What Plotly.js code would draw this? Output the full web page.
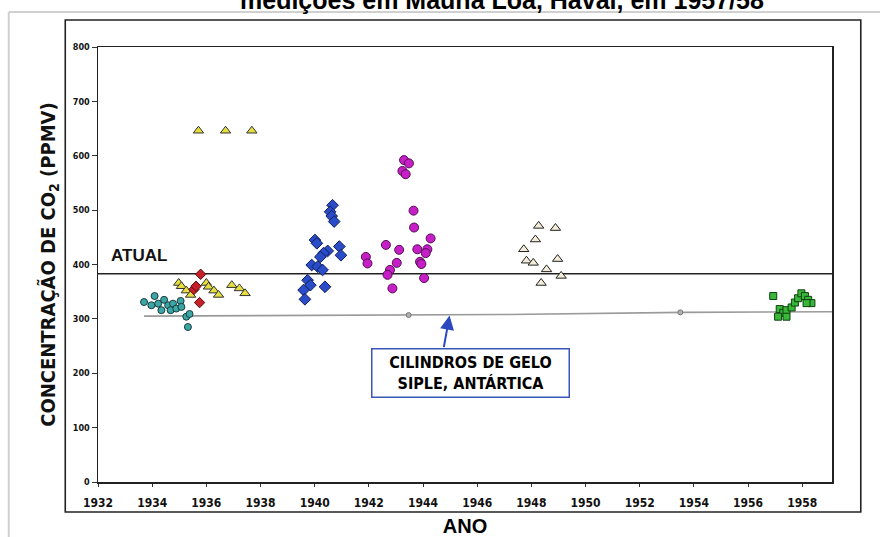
<!DOCTYPE html>
<html><head><meta charset="utf-8">
<script src="https://cdn.plot.ly/plotly-3.0.1.min.js"></script>
<style>html,body{margin:0;padding:0;background:#fff}#chart{width:880px;height:537px}</style>
</head><body><div id="chart"></div><script>
// ---- data ----
const tealYears=[1933.70,1934.09,1933.97,1934.22,1934.34,1934.44,1934.59,1934.68,1934.77,1934.89,1935.05,1935.08,1935.26,1935.38,1935.32];
const tealPpm  =[331,342,325,328,316,335,325,316,328,319,333,322,304,309,285];
const redYears=[1935.79,1935.54,1935.62,1935.75];
const redPpm  =[382,354,360,330];
const yellowYears=[1934.98,1935.08,1935.26,1935.42,1936.00,1936.08,1936.28,1936.45,1936.94,1937.22,1937.43,1935.71,1936.71,1937.68];
const yellowPpm  =[366,360,352,344,366,359,352,344,362,356,347,646,646,646];
const blueYears=[1940.66,1940.57,1940.63,1940.72,1940.01,1940.08,1940.91,1940.97,1940.48,1940.33,1940.21,1939.89,1940.11,1940.29,1939.74,1939.84,1939.59,1939.64,1940.38];
const bluePpm  =[509,497,489,479,445,439,433,417,425,421,414,399,396,390,371,362,353,336,359];
const magentaYears=[1943.30,1943.48,1943.24,1943.36,1943.65,1943.67,1944.28,1942.63,1943.12,1943.79,1944.16,1944.10,1941.89,1941.95,1943.03,1943.89,1943.94,1942.78,1942.69,1944.04,1942.87];
const magentaPpm  =[592,586,572,566,499,468,448,436,427,428,428,421,414,402,403,405,401,390,381,375,356];
const beigeYears=[1948.27,1948.89,1948.15,1947.72,1947.82,1948.07,1948.97,1948.56,1949.10,1948.36];
const beigePpm  =[471,467,446,428,407,403,410,391,379,366];
const greenYears=[1956.93,1957.17,1957.30,1957.11,1957.42,1957.61,1957.73,1957.85,1957.97,1958.10,1958.22,1958.34,1958.16,1957.42];
const greenPpm  =[342,318,311,304,316,321,330,338,347,342,335,329,329,304];
const iceLineYears=[1933.7,1940.3,1943.4,1946.9,1953.6,1959.1];
const iceLinePpm  =[305,306,307,308,312,313];
const iceDotYears=[1935.3,1943.47,1953.5];
const iceDotPpm  =[306,307,312];
const atualYears=[1932,1959.1];
const atualPpm  =[383,383];
const xTickVals=[1932,1934,1936,1938,1940,1942,1944,1946,1948,1950,1952,1954,1956,1958];
const xTickText=['1932','1934','1936','1938','1940','1942','1944','1946','1948','1950','1952','1954','1956','1958'];
const yTickVals=[0,100,200,300,400,500,600,700,800];
const yTickText=['0','100','200','300','400','500','600','700','800'];

const F='"Liberation Sans", Arial, sans-serif';
const NARROW='"Liberation Sans Narrow", "DejaVu Sans Condensed", "Roboto Condensed", "Liberation Sans", Arial, sans-serif';

function pts(x,y,symbol,size,color,lineColor){
  return {type:'scatter',mode:'markers',x:x,y:y,hoverinfo:'x+y',
    marker:{symbol:symbol,size:size,color:color,line:{color:lineColor,width:1}}};
}
const traces=[
  {type:'scatter',mode:'lines',x:atualYears,y:atualPpm,line:{color:'#222',width:1.6},hoverinfo:'skip'},
  {type:'scatter',mode:'lines',x:iceLineYears,y:iceLinePpm,line:{color:'#9a9a9a',width:1.6},hoverinfo:'skip'},
  {type:'scatter',mode:'markers',x:iceDotYears,y:iceDotPpm,marker:{symbol:'circle',size:5,color:'#b0b0b0',line:{color:'#777',width:1}}},
  pts(tealYears,tealPpm,'circle',7,'#3aa6a6','#1c3c3c'),
  pts(yellowYears,yellowPpm,'triangle-up',9,'#e6de3c','#333'),
  pts(redYears,redPpm,'diamond',8,'#c8202a','#501010'),
  pts(blueYears,bluePpm,'diamond',9,'#2a4cc8','#10205a'),
  pts(magentaYears,magentaPpm,'circle',9,'#c81ec8','#501050'),
  pts(beigeYears,beigePpm,'triangle-up',9,'#f2ecd8','#222'),
  pts(greenYears,greenPpm,'square',7,'#38b838','#104010')
];

const layout={
  width:880,height:537,
  margin:{l:98,r:48,t:47,b:55,pad:0},
  paper_bgcolor:'#fff',plot_bgcolor:'#fff',
  showlegend:false,
  font:{family:F,color:'#111'},
  xaxis:{range:[1932,1959.1],tickmode:'array',tickvals:xTickVals,ticktext:xTickText,
    ticks:'outside',ticklen:3,tickcolor:'#333',ticklabelstandoff:6,
    tickfont:{family:NARROW,size:12,weight:'bold',color:'#111'},
    showgrid:false,zeroline:false,showline:true,mirror:true,linecolor:'#222',linewidth:1.5,
    title:{text:'ANO',font:{family:F,size:20,weight:'bold',color:'#000'},standoff:12}},
  yaxis:{range:[0,800],tickmode:'array',tickvals:yTickVals,ticktext:yTickText,
    ticks:'outside',ticklen:5,tickcolor:'#333',
    tickfont:{family:NARROW,size:9,weight:'bold',color:'#111'},
    showgrid:false,zeroline:false,showline:true,mirror:true,linecolor:'#222',linewidth:1.5,
    title:{text:'CONCENTRAÇÃO DE CO<sub>2</sub> (PPMV)',font:{family:NARROW,size:20,weight:'bold',color:'#111'},standoff:12}},
  shapes:[
    {type:'line',xref:'paper',yref:'paper',x0:-0.1216,x1:1.12,y0:1.0805,y1:1.0805,line:{color:'#d0d0d0',width:2}},
    {type:'line',xref:'paper',yref:'paper',x0:-0.1216,x1:-0.1216,y0:1.0805,y1:-0.13,line:{color:'#d0d0d0',width:2}},
    {type:'rect',xref:'paper',yref:'paper',x0:-0.0446,x1:1.0392,y0:-0.069,y1:1.062,line:{color:'#222',width:1.6}}
  ],
  annotations:[
    {xref:'paper',yref:'paper',x:0.55,y:1.108,xanchor:'center',yanchor:'middle',showarrow:false,
     text:'medições em Mauna Loa, Havaí, em 1957/58',font:{family:F,size:25,weight:'bold',color:'#000'}},
    {x:1932.4,y:416,xanchor:'left',yanchor:'middle',showarrow:false,text:'ATUAL',
     font:{family:F,size:17,weight:'bold',color:'#111'}},
    {x:1944.98,y:306,ax:-6,ay:33,text:'',showarrow:true,arrowhead:2,arrowsize:1.4,arrowwidth:2,arrowcolor:'#2a48c0',standoff:0},
    {x:1945.75,y:200,xanchor:'center',yanchor:'middle',showarrow:false,
     text:'CILINDROS DE GELO<br>SIPLE, ANTÁRTICA',align:'center',
     font:{family:NARROW,size:16,weight:'bold',color:'#000'},
     bgcolor:'#fff',bordercolor:'#3a56b8',borderwidth:1.5,width:192,height:43,borderpad:2}
  ]
};
Plotly.newPlot('chart',traces,layout,{displayModeBar:false,staticPlot:true});
</script></body></html>
